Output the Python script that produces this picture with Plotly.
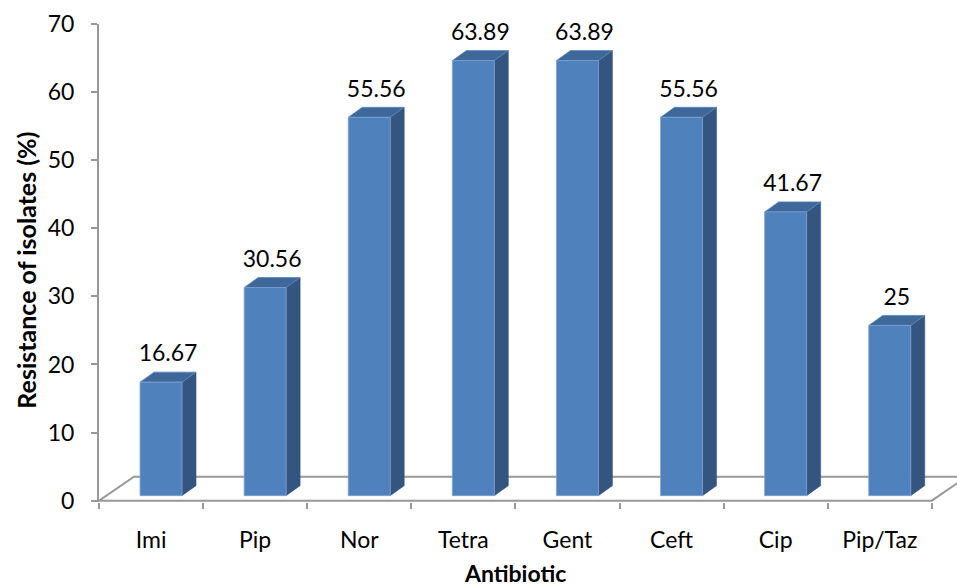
import plotly.graph_objects as go

# Antibiotic resistance of isolates (%)
antibiotics = ["Imi", "Pip", "Nor", "Tetra", "Gent", "Ceft", "Cip", "Pip/Taz"]
resistance = [16.67, 30.56, 55.56, 63.89, 63.89, 55.56, 41.67, 25]
y_tick_values = [0, 10, 20, 30, 40, 50, 60, 70]

# pixel geometry of the plotting area
PX_PER_CAT = 104.1
Y_MIN, Y_MAX = -0.2, 70
PLOT_H = 478
PX_PER_UNIT = PLOT_H / (Y_MAX - Y_MIN)


def ux(px):
    return px / PX_PER_CAT


def uy(px):
    return px / PX_PER_UNIT


BASE = uy(5)          # bars stand a little behind the floor's front edge
SHIFT = ux(10)        # horizontal shift caused by that depth
HALF = ux(21)         # half width of a bar's front face
DX, DY = ux(14), uy(10)          # bar depth
FDX, FDY = ux(35), uy(24)        # floor depth

FRONT = "#4F81BD"
SIDE = "#33557F"
TOP = "#3E679A"
AXIS_GREY = "#989898"
FONT = "Lato"

n = len(antibiotics)
fx, fy, sx, sy, tx, ty = [], [], [], [], [], []
lab_x, lab_y = [], []
for i, v in enumerate(resistance):
    c = i + 0.5 + SHIFT
    l, r = c - HALF, c + HALF
    b, t = BASE, BASE + v
    fx += [l, r, r, l, l, None]
    fy += [b, b, t, t, b, None]
    sx += [r, r + DX, r + DX, r, r, None]
    sy += [b, b + DY, t + DY, t, b, None]
    tx += [l, r, r + DX, l + DX, l, None]
    ty += [t, t, t + DY, t + DY, t, None]
    lab_x.append(c + DX / 2)
    lab_y.append(t + DY + uy(5))

fig = go.Figure()

# floor of the 3-D plot
fig.add_trace(go.Scatter(
    x=[0, n, n + FDX, FDX, 0], y=[0, 0, FDY, FDY, 0],
    mode="lines", line=dict(color=AXIS_GREY, width=2),
    fill="toself", fillcolor="white", hoverinfo="skip", showlegend=False))

fig.add_trace(go.Scatter(x=sx, y=sy, mode="lines", fill="toself", fillcolor=SIDE,
                         line=dict(color=SIDE, width=0.5), hoverinfo="skip", showlegend=False))
fig.add_trace(go.Scatter(x=tx, y=ty, mode="lines", fill="toself", fillcolor=TOP,
                         line=dict(color="#5A86BE", width=0.8), hoverinfo="skip", showlegend=False))
fig.add_trace(go.Scatter(x=fx, y=fy, mode="lines", fill="toself", fillcolor=FRONT,
                         line=dict(color="#7FA2CF", width=0.8), hoverinfo="skip", showlegend=False))

# value labels
fig.add_trace(go.Scatter(
    x=lab_x, y=lab_y, mode="text",
    text=[f"{v:g}" for v in resistance], textposition="top center",
    textfont=dict(family=FONT, size=23, color="black"),
    cliponaxis=False, hoverinfo="skip", showlegend=False))

# category labels on an overlaid axis
fig.add_trace(go.Scatter(x=[0.5], y=[None], xaxis="x2", showlegend=False, hoverinfo="skip"))

x_range = [0, 858 / PX_PER_CAT]
fig.update_layout(
    width=957, height=588,
    margin=dict(l=99, r=0, t=24, b=86),
    plot_bgcolor="white", paper_bgcolor="white",
    font=dict(family=FONT, color="black"),
    xaxis=dict(range=x_range, showgrid=False, zeroline=False, showline=False,
               tickvals=list(range(n + 1)), ticktext=[""] * (n + 1),
               ticks="outside", ticklen=6, tickwidth=2, tickcolor=AXIS_GREY),
    xaxis2=dict(range=x_range, overlaying="x", side="bottom", matches="x",
                showgrid=False, zeroline=False, showline=False,
                tickvals=[i + 0.5 for i in range(n)], ticktext=antibiotics,
                ticks="", ticklabelstandoff=22,
                tickfont=dict(family=FONT, size=23, color="black")),
    yaxis=dict(range=[Y_MIN, Y_MAX], showgrid=False, zeroline=False,
               showline=True, linecolor=AXIS_GREY, linewidth=2,
               tickvals=y_tick_values, ticks="outside", ticklen=6, tickwidth=2,
               tickcolor=AXIS_GREY, ticklabelstandoff=12,
               tickfont=dict(family=FONT, size=23, color="black")),
    annotations=[
        dict(text="<b>Resistance of isolates (%)</b>", textangle=-90,
             xref="paper", yref="paper", x=0, y=0.484, xshift=-73,
             xanchor="center", yanchor="middle", showarrow=False,
             font=dict(family=FONT, size=25, color="black")),
        dict(text="<b>Antibiotic</b>", xref="paper", yref="paper",
             x=(515 - 99) / 858, y=0, yshift=-71,
             xanchor="center", yanchor="middle", showarrow=False,
             font=dict(family=FONT, size=23, color="black")),
    ],
)

fig.write_html("out.html")
